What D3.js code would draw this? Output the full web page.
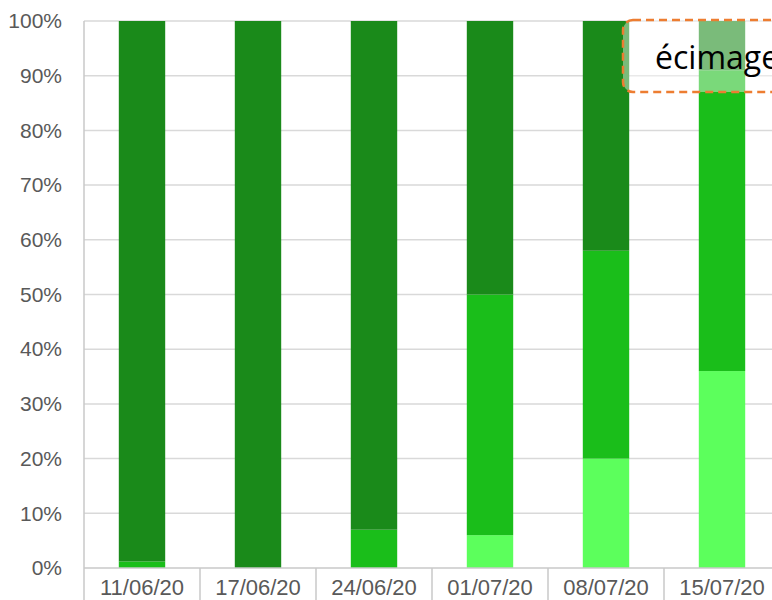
<!DOCTYPE html>
<html>
<head>
<meta charset="utf-8">
<script src="https://cdn.jsdelivr.net/npm/d3@7"></script>
<style>
  body { margin: 0; background: #fff; }
  svg { display: block; font-family: "Open Sans", sans-serif; }
</style>
</head>
<body>
<svg id="chart" width="772" height="600"></svg>
<script>
// dates de relevé
const categories = ["11/06/20", "17/06/20", "24/06/20", "01/07/20", "08/07/20", "15/07/20"];
// parts (%) par classe, du bas vers le haut
const lightValues  = [0, 0, 0, 6, 20, 36];
const mediumValues = [1.2, 0, 7, 44, 38, 55];
const darkValues   = [98.8, 100, 93, 50, 42, 9];
const yTicks = [0, 10, 20, 30, 40, 50, 60, 70, 80, 90, 100];
const calloutText = "écimage";

const colors = {light: "#5cff5c", medium: "#1abe1a", dark: "#1a8a1a"};

const svg = d3.select("#chart");
const plot = {left: 84, top: 21, bottom: 568, right: 780};

const rows = categories.map(function (c, i) {
    return {date: c, light: lightValues[i], medium: mediumValues[i], dark: darkValues[i]};
});

const x = d3.scaleBand()
    .domain(categories)
    .range([plot.left, plot.right])
    .paddingInner(0.6)
    .paddingOuter(0.3);

const y = d3.scaleLinear()
    .domain([0, 100])
    .range([plot.bottom, plot.top]);

// grille horizontale
svg.append("g")
    .selectAll("line")
    .data(yTicks.filter(function (t) { return t > 0; }))
    .enter().append("line")
    .attr("x1", plot.left)
    .attr("x2", plot.right)
    .attr("y1", function (d) { return y(d); })
    .attr("y2", function (d) { return y(d); })
    .attr("stroke", "#d9d9d9")
    .attr("stroke-width", 1.5);

// barres empilées
const stack = d3.stack().keys(["light", "medium", "dark"]);
const layers = stack(rows);

svg.append("g")
    .selectAll("g")
    .data(layers)
    .enter().append("g")
    .attr("fill", function (d) { return colors[d.key]; })
    .selectAll("rect")
    .data(function (d) { return d; })
    .enter().append("rect")
    .attr("x", function (d) { return x(d.data.date); })
    .attr("width", x.bandwidth())
    .attr("y", function (d) { return y(d[1]); })
    .attr("height", function (d) { return y(d[0]) - y(d[1]); });

// axe vertical
const yAxis = svg.append("g")
    .attr("transform", "translate(" + plot.left + ",0)")
    .call(d3.axisLeft(y).tickValues(yTicks).tickSize(0).tickPadding(22)
        .tickFormat(function (d) { return d + "%"; }));
yAxis.select(".domain").remove();
yAxis.selectAll("text")
    .style("font-size", "21px")
    .attr("fill", "#595959");

svg.append("line")
    .attr("x1", plot.left).attr("x2", plot.left)
    .attr("y1", plot.top).attr("y2", 600)
    .attr("stroke", "#c8c8c8").attr("stroke-width", 1.5);

// axe horizontal
const xAxis = svg.append("g")
    .attr("transform", "translate(0," + plot.bottom + ")")
    .call(d3.axisBottom(x).tickSize(0).tickPadding(11));
xAxis.select(".domain").remove();
xAxis.selectAll("text")
    .style("font-size", "22px")
    .attr("fill", "#595959");

svg.append("line")
    .attr("x1", plot.left).attr("x2", plot.right)
    .attr("y1", plot.bottom).attr("y2", plot.bottom)
    .attr("stroke", "#c8c8c8").attr("stroke-width", 1.5);

// séparateurs entre dates
const step = x.step();
svg.append("g")
    .selectAll("line")
    .data(categories)
    .enter().append("line")
    .attr("x1", function (d) { return x(d) - step * 0.3 + step; })
    .attr("x2", function (d) { return x(d) - step * 0.3 + step; })
    .attr("y1", plot.bottom)
    .attr("y2", 600)
    .attr("stroke", "#c8c8c8").attr("stroke-width", 1.5);

// bulle "écimage"
const callout = svg.append("g");
callout.append("rect")
    .attr("x", 623)
    .attr("y", y(100) - 1)
    .attr("width", 220)
    .attr("height", 72)
    .attr("rx", 10)
    .attr("fill", "#fff")
    .attr("fill-opacity", 0.42)
    .attr("stroke", "#ed7d31")
    .attr("stroke-width", 2.5)
    .attr("stroke-dasharray", "8,5");
callout.append("text")
    .attr("x", 655)
    .attr("y", 69)
    .style("font-size", "32px")
    .attr("fill", "#000")
    .text(calloutText);
</script>
</body>
</html>
